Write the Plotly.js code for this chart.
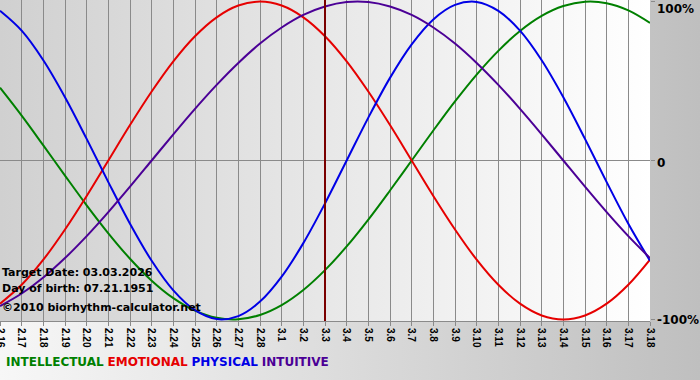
<!DOCTYPE html>
<html>
<head>
<meta charset="utf-8">
<script src="https://cdn.plot.ly/plotly-3.0.1.min.js"></script>
<style>
  html, body { margin: 0; padding: 0; }
  #chart { width: 700px; height: 380px; background: linear-gradient(to right, #f7f7f7, #bfbfbf); }
</style>
</head>
<body>
<div id="chart"></div>
<script>
// Day labels (month.day)
const dayLabels = ['2.16','2.17','2.18','2.19','2.20','2.21','2.22','2.23','2.24','2.25','2.26','2.27','2.28',
  '3.1','3.2','3.3','3.4','3.5','3.6','3.7','3.8','3.9','3.10','3.11','3.12','3.13','3.14','3.15','3.16','3.17','3.18'];

// Cycle values in percent, one per day
const intellectual = [45.8, 28.2, 9.5, -9.5, -28.2, -45.8, -61.8, -75.6, -86.6, -94.5, -99.0, -99.9, -97.2, -91.0, -81.5,
  -69.0, -54.1, -37.2, -18.9, 0, 18.9, 37.2, 54.1, 69.0, 81.5, 91.0, 97.2, 99.9, 99.0, 94.5, 86.6];
const emotional = [-90.1, -78.2, -62.4, -43.4, -22.3, 0, 22.3, 43.4, 62.4, 78.2, 90.1, 97.5, 100, 97.5, 90.1,
  78.2, 62.4, 43.4, 22.3, 0, -22.3, -43.4, -62.4, -78.2, -90.1, -97.5, -100, -97.5, -90.1, -78.2, -62.4];
const physical = [94.2, 81.7, 63.1, 39.8, 13.6, -13.6, -39.8, -63.1, -81.7, -94.2, -99.8, -97.9, -88.8, -73.1, -52.0,
  -27.0, 0, 27.0, 52.0, 73.1, 88.8, 97.9, 99.8, 94.2, 81.7, 63.1, 39.8, 13.6, -13.6, -39.8, -63.1];
const intuitive = [-91.6, -83.7, -73.6, -61.4, -47.6, -32.5, -16.5, 0, 16.5, 32.5, 47.6, 61.4, 73.6, 83.7, 91.6,
  96.9, 99.7, 99.7, 96.9, 91.6, 83.7, 73.6, 61.4, 47.6, 32.5, 16.5, 0, -16.5, -32.5, -47.6, -61.4];

const seriesNames = ['INTELLECTUAL', 'EMOTIONAL', 'PHYSICAL', 'INTUITIVE'];
const seriesColors = ['#008000', '#e60000', '#0000e6', '#4b0096'];
const targetLabel = '3.3';
const yTickVals = [100, 0, -100];
const yTickText = ['100%', '0', '-100%'];
const infoLines = ['Target Date: 03.03.2026', 'Day of birth: 07.21.1951', '©2010 biorhythm-calculator.net'];

const xIdx = dayLabels.map((_, i) => i);
const allSeries = [intellectual, emotional, physical, intuitive];

const traces = allSeries.map((vals, k) => ({
  type: 'scatter', mode: 'lines', x: xIdx, y: vals, name: seriesNames[k],
  line: { color: seriesColors[k], width: 2, shape: 'spline', smoothing: 1 },
  hoverinfo: 'skip', showlegend: false
}));

const targetIdx = dayLabels.indexOf(targetLabel);

const gradSvg = "<svg xmlns='http://www.w3.org/2000/svg' width='100' height='100' preserveAspectRatio='none'>" +
  "<defs><linearGradient id='g' x1='0' y1='0' x2='1' y2='0'><stop offset='0' stop-color='#d0d0d0'/>" +
  "<stop offset='1' stop-color='#ffffff'/></linearGradient></defs><rect width='100' height='100' fill='url(#g)'/></svg>";
const gradUrl = 'data:image/svg+xml;charset=utf-8,' + encodeURIComponent(gradSvg);

const boldFont = { family: 'DejaVu Sans, Verdana, sans-serif', size: 11, color: '#000' };

const annotations = [];
infoLines.forEach((t, i) => {
  annotations.push({ xref: 'paper', yref: 'paper', x: 0, y: 0, xanchor: 'left', yanchor: 'middle',
    xshift: 0, yshift: [49, 33, 14][i], text: '<b>' + t + '</b>', showarrow: false, font: boldFont });
});
yTickVals.forEach((v, i) => {
  annotations.push({ xref: 'paper', yref: 'y', x: 1, y: v, xanchor: 'left', yanchor: 'middle',
    xshift: 5, yshift: [-7, -2, -1][i], text: '<b>' + yTickText[i] + '</b>', showarrow: false,
    font: { family: 'DejaVu Sans, Verdana, sans-serif', size: 12, color: '#000' } });
});
annotations.push({ xref: 'paper', yref: 'paper', x: 0, y: 0, xanchor: 'left', yanchor: 'middle',
  xshift: 4, yshift: -41, showarrow: false,
  text: seriesNames.map((n, k) => '<span style="color:' + seriesColors[k] + '"><b>' + n + '</b></span>').join(' '),
  font: { family: 'DejaVu Sans, Verdana, sans-serif', size: 12, color: '#000' } });

const layout = {
  width: 700, height: 380,
  margin: { l: 0, r: 50, t: 0, b: 59, pad: 0 },
  paper_bgcolor: 'rgba(0,0,0,0)', plot_bgcolor: 'rgba(0,0,0,0)',
  showlegend: false,
  xaxis: {
    range: [0, dayLabels.length - 1], tickvals: xIdx, ticktext: dayLabels, tickangle: 90,
    ticklabeloverflow: 'allow',
    showgrid: true, gridcolor: '#8a8a8a', gridwidth: 1, zeroline: false,
    showline: true, linecolor: '#8a8a8a', linewidth: 1,
    ticks: 'outside', ticklen: 4, tickcolor: '#8a8a8a',
    tickfont: { family: 'Liberation Sans Narrow, Liberation Sans, Arial, sans-serif', size: 10, color: '#000', weight: 'bold' },
    fixedrange: true
  },
  yaxis: {
    range: [-101, 101], side: 'right', tickvals: yTickVals, showticklabels: false,
    ticks: 'outside', ticklen: 4, tickcolor: '#8a8a8a',
    showgrid: false, zeroline: true, zerolinecolor: '#8a8a8a', zerolinewidth: 1,
    showline: false, fixedrange: true
  },
  images: [{ source: gradUrl, xref: 'x domain', yref: 'y domain', x: 0, y: 1, sizex: 1, sizey: 1,
    xanchor: 'left', yanchor: 'top', sizing: 'stretch', layer: 'below' }],
  shapes: [{ type: 'line', xref: 'x', yref: 'paper', x0: targetIdx, x1: targetIdx, y0: 0, y1: 1,
    line: { color: '#7a0000', width: 2 }, layer: 'above' }],
  annotations: annotations
};

Plotly.newPlot('chart', traces, layout, { displayModeBar: false, staticPlot: true });
</script>
</body>
</html>
